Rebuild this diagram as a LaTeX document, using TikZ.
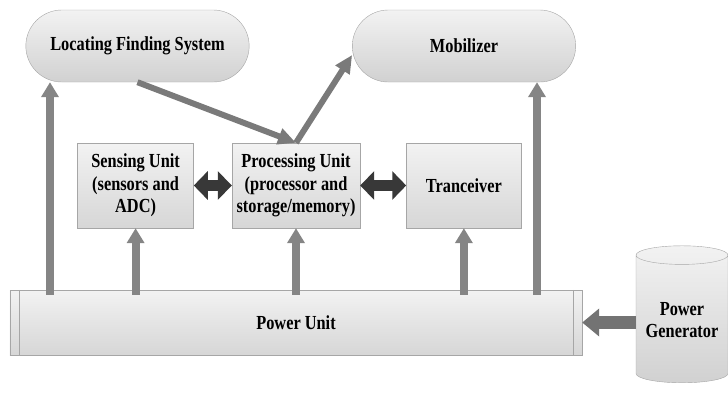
\documentclass[tikz,border=0pt]{standalone}
\usepackage{fontspec}
\setmainfont{Liberation Serif}[FakeStretch=0.82]
\usetikzlibrary{shapes.misc,shapes.geometric,arrows.meta,positioning,calc}

\begin{document}
\begin{tikzpicture}[
    x=1bp, y=-1bp,
    font=\bfseries\fontsize{20}{22.5}\selectfont,
    block/.style={rectangle, draw=black!35, top color=black!5, bottom color=black!16, align=center, inner sep=1pt},
    pill/.style={rounded rectangle, draw=black!35, top color=black!5, bottom color=black!18, minimum width=230bp, minimum height=72bp},
    unit/.style={block, minimum width=116bp, minimum height=85bp},
    uparrow/.style={-{Triangle[width=17pt,length=15pt]}, line width=8pt, draw=black!48, shorten <=-5pt},
    slant/.style={-{Triangle[width=16pt,length=18pt]}, line width=6pt, draw=black!52},
    biarrow/.style={{Triangle[width=28pt,length=14pt]}-{Triangle[width=28pt,length=14pt]}, line width=12pt, draw=black!78},
    feedarrow/.style={-{Triangle[width=27pt,length=17pt]}, line width=13pt, draw=black!55}
]
    \useasboundingbox (0,0) rectangle (728,392);

    % Top row
    \node[pill] (lfs) at (137.5,46) {Locating Finding System};
    \node[pill] (mob) at (464,46) {Mobilizer};

    % Middle row
    \node[unit, minimum width=128bp] (proc) at (296,185.5) {Processing Unit\\(processor and\\storage/memory)};
    \node[unit, left=38bp of proc] (sense) {Sensing Unit\\(sensors and\\ADC)};
    \node[unit, right=46bp of proc, minimum width=115bp] (trans) {Tranceiver};

    % Power
    \node[block, minimum width=572bp, minimum height=65bp] (pwr) at (296,322.5) {Power Unit};
    \draw[black!35] ([xshift=9bp]pwr.north west) -- ([xshift=9bp]pwr.south west);
    \draw[black!35] ([xshift=-9bp]pwr.north east) -- ([xshift=-9bp]pwr.south east);
    \node[cylinder, shape border rotate=90, aspect=0.25, draw=black!35, top color=black!5, bottom color=black!18,
          minimum width=92bp, minimum height=137bp, align=center, inner sep=1pt] (gen) at (682,320) {Power\\Generator};

    % Supply lines
    \coordinate (foot1) at (50,290);
    \coordinate (foot5) at (537,290);
    \draw[uparrow] (foot1) -- (foot1 |- lfs.south);
    \draw[uparrow] (sense.south |- pwr.north) -- (sense.south);
    \draw[uparrow] (proc.south |- pwr.north) -- (proc.south);
    \draw[uparrow] (trans.south |- pwr.north) -- (trans.south);
    \draw[uparrow] (foot5) -- (foot5 |- mob.south);
    \draw[feedarrow] (gen.west |- pwr.east) -- (pwr.east);

    % Data paths
    \draw[biarrow] (sense) -- (proc);
    \draw[biarrow] (proc) -- (trans);
    \draw[slant] (lfs.south) -- (proc.north);
    \draw[slant] (proc.north) -- ([yshift=-9pt]mob.west);
\end{tikzpicture}
\end{document}
